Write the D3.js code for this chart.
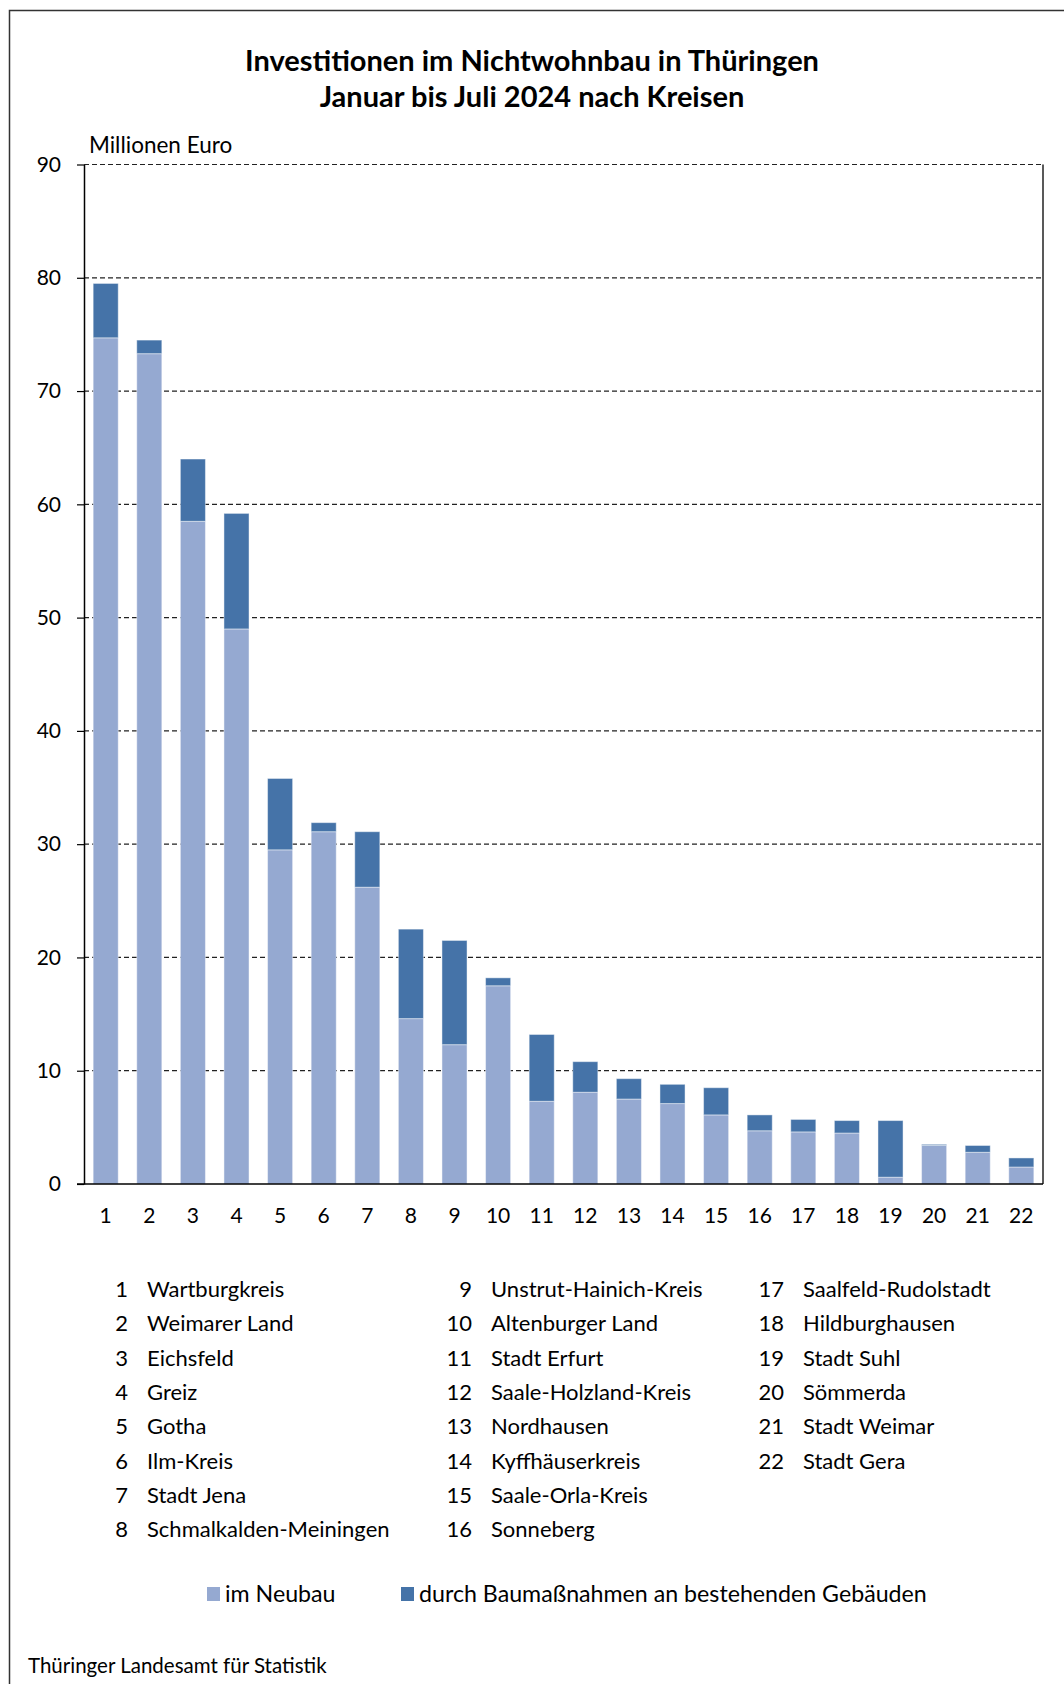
<!DOCTYPE html>
<html>
<head>
<meta charset="utf-8">
<script src="https://cdn.jsdelivr.net/npm/d3@7"></script>
<style>
  body { margin: 0; background: #fff; }
  svg { display: block; font-family: Lato, "Open Sans", sans-serif; }
</style>
</head>
<body>
<div id="chart"></div>
<script>
// Kreise (Nummer = Position im Diagramm)
const kreise = [
	"Wartburgkreis", "Weimarer Land", "Eichsfeld", "Greiz", "Gotha", "Ilm-Kreis",
	"Stadt Jena", "Schmalkalden-Meiningen", "Unstrut-Hainich-Kreis", "Altenburger Land",
	"Stadt Erfurt", "Saale-Holzland-Kreis", "Nordhausen", "Kyffhäuserkreis",
	"Saale-Orla-Kreis", "Sonneberg", "Saalfeld-Rudolstadt", "Hildburghausen",
	"Stadt Suhl", "Sömmerda", "Stadt Weimar", "Stadt Gera",
];
// Millionen Euro
const neubau = [74.7, 73.3, 58.5, 49.0, 29.5, 31.1, 26.2, 14.6, 12.3, 17.5, 7.3,
	8.1, 7.5, 7.1, 6.1, 4.7, 4.6, 4.5, 0.6, 3.4, 2.8, 1.5];
const bestand = [4.8, 1.2, 5.5, 10.2, 6.3, 0.8, 4.9, 7.9, 9.2, 0.7, 5.9,
	2.7, 1.8, 1.7, 2.4, 1.4, 1.1, 1.1, 5.0, 0.1, 0.6, 0.8];
const yTicks = [0, 10, 20, 30, 40, 50, 60, 70, 80, 90];
const serien = ["im Neubau", "durch Baumaßnahmen an bestehenden Gebäuden"];
const farben = ["#95a9d1", "#4573a8"];

const W = 1064, H = 1684;
const svg = d3.select("#chart").append("svg")
	.attr("width", W).attr("height", H);

// Rahmen
svg.append("path")
	.attr("d", `M9.5,${H} V10.5 H${W}`)
	.attr("fill", "none").attr("stroke", "#333").attr("stroke-width", 1.5);

// Titel
const title = svg.append("text")
	.attr("text-anchor", "middle")
	.attr("font-weight", "bold")
	.attr("font-size", 29);
title.append("tspan").attr("x", 532).attr("y", 71).text("Investitionen im Nichtwohnbau in Thüringen");
title.append("tspan").attr("x", 532).attr("y", 107).text("Januar bis Juli 2024 nach Kreisen");

const plot = { left: 84, right: 1043, top: 164.5, bottom: 1184 };

const x = d3.scaleBand()
	.domain(d3.range(1, kreise.length + 1))
	.range([plot.left, plot.right])
	.paddingInner(0.425)
	.paddingOuter(0.21);

const y = d3.scaleLinear().domain([0, 90]).range([plot.bottom, plot.top]);

svg.append("text")
	.attr("x", 89).attr("y", 153)
	.attr("font-size", 22.5)
	.text("Millionen Euro");

// Gitternetz
svg.append("g")
	.selectAll("line")
	.data(yTicks.filter((d) => d > 0))
	.join("line")
	.attr("x1", plot.left).attr("x2", plot.right)
	.attr("y1", (d) => y(d)).attr("y2", (d) => y(d))
	.attr("stroke", "#222").attr("stroke-width", 1.2)
	.attr("stroke-dasharray", "5,3");

// Balken (gestapelt)
const stack = d3.stack().keys([0, 1]).value((d, k) => d[k]);
const rows = neubau.map((v, i) => [v, bestand[i]]);
const layers = stack(rows);

svg.append("g")
	.selectAll("g")
	.data(layers)
	.join("g")
	.attr("fill", (d, i) => farben[i])
	.selectAll("rect")
	.data((d) => d)
	.join("rect")
	.attr("x", (d, i) => x(i + 1))
	.attr("width", x.bandwidth())
	.attr("y", (d) => y(d[1]))
	.attr("height", (d) => y(d[0]) - y(d[1]))
	.attr("stroke", "#fff").attr("stroke-opacity", 0.45).attr("stroke-width", 1);

// Achsen
const yAxis = d3.axisLeft(y).tickValues(yTicks).tickSize(7).tickPadding(16).tickSizeOuter(0);
const yg = svg.append("g").attr("transform", `translate(${plot.left},0)`).call(yAxis);
yg.select(".domain").attr("stroke", "#000").attr("stroke-width", 1.5);
yg.selectAll(".tick line").attr("stroke", "#000").attr("stroke-width", 1.2);
yg.selectAll(".tick text").attr("font-size", 21).attr("font-family", "Lato, sans-serif").attr("fill", "#000");

svg.append("line")
	.attr("x1", plot.right).attr("x2", plot.right)
	.attr("y1", plot.top).attr("y2", plot.bottom)
	.attr("stroke", "#222").attr("stroke-width", 1.5);

const xAxis = d3.axisBottom(x).tickSize(0).tickPadding(24).tickSizeOuter(0);
const xg = svg.append("g").attr("transform", `translate(0,${plot.bottom})`).call(xAxis);
xg.select(".domain").attr("stroke", "#000").attr("stroke-width", 1.5)
	.attr("d", `M${plot.left - 7},0H${plot.right}`);
xg.selectAll(".tick text").attr("font-size", 21).attr("font-family", "Lato, sans-serif").attr("fill", "#000");

// Kreisliste
const cols = [
	{ num: 128, name: 147 },
	{ num: 472, name: 491 },
	{ num: 784, name: 803 },
];
const list = svg.append("g").attr("font-size", 22);
kreise.forEach((k, i) => {
	const c = cols[Math.floor(i / 8)];
	const yy = 1297 + (i % 8) * 34.3;
	list.append("text").attr("x", c.num).attr("y", yy).attr("text-anchor", "end").text(i + 1);
	list.append("text").attr("x", c.name).attr("y", yy).text(k);
});

// Legende
const legendX = [207, 401];
const leg = svg.append("g").attr("font-size", 23.2);
serien.forEach((s, i) => {
	leg.append("rect").attr("x", legendX[i]).attr("y", 1587).attr("width", 13).attr("height", 14).attr("fill", farben[i]);
	leg.append("text").attr("x", legendX[i] + 18).attr("y", 1602).text(s);
});

// Quelle
svg.append("text")
	.attr("x", 28).attr("y", 1673)
	.attr("font-size", 20.5)
	.text("Thüringer Landesamt für Statistik");
</script>
</body>
</html>
